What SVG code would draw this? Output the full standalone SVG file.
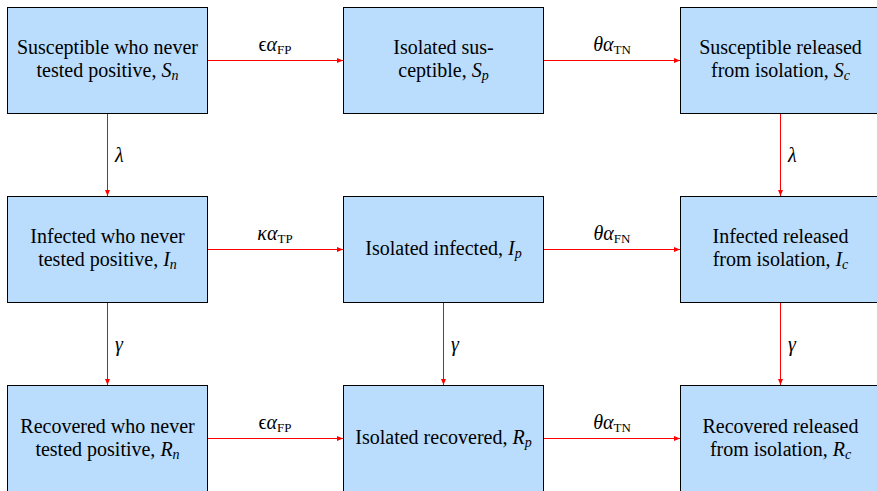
<svg xmlns="http://www.w3.org/2000/svg" width="877" height="491" viewBox="0 0 877 491">
<style>
.box{fill:#badcfd;stroke:#000;stroke-width:1}
.edge{stroke:#ff0000;stroke-width:1;fill:none;marker-end:url(#ah)}
</style>
<defs>
<marker id="ah" markerUnits="userSpaceOnUse" markerWidth="8" markerHeight="6" refX="6" refY="3" orient="auto">
<path d="M0,0.5 L6,3 L0,5.5 Z" fill="#ff0000"/>
</marker>
</defs>
<rect width="877" height="491" fill="#fff"/>
<g id="connectors">
<line class="edge" x1="208" y1="60.5" x2="343" y2="60.5"/>
<line class="edge" x1="544" y1="60.5" x2="680" y2="60.5"/>
<line class="edge" x1="208" y1="249.5" x2="343" y2="249.5"/>
<line class="edge" x1="544" y1="249.5" x2="680" y2="249.5"/>
<line class="edge" x1="208" y1="438.5" x2="343" y2="438.5"/>
<line class="edge" x1="544" y1="438.5" x2="680" y2="438.5"/>
<line class="edge" x1="107.5" y1="114" x2="107.5" y2="196"/>
<line class="edge" x1="780.5" y1="114" x2="780.5" y2="196"/>
<line class="edge" x1="107.5" y1="303" x2="107.5" y2="385"/>
<line class="edge" x1="443.5" y1="303" x2="443.5" y2="385"/>
<line class="edge" x1="780.5" y1="303" x2="780.5" y2="385"/>
<text x="275" y="51" font-family="Liberation Serif, serif" font-size="20" text-anchor="middle">ϵ<tspan font-style="italic">α</tspan><tspan font-size="13" dy="3">FP</tspan></text>
<text x="612" y="51" font-family="Liberation Serif, serif" font-size="20" text-anchor="middle"><tspan font-style="italic">θα</tspan><tspan font-size="13" dy="3">TN</tspan></text>
<text x="275" y="240" font-family="Liberation Serif, serif" font-size="20" text-anchor="middle"><tspan font-style="italic">κα</tspan><tspan font-size="13" dy="3">TP</tspan></text>
<text x="612" y="240" font-family="Liberation Serif, serif" font-size="20" text-anchor="middle"><tspan font-style="italic">θα</tspan><tspan font-size="13" dy="3">FN</tspan></text>
<text x="275" y="429" font-family="Liberation Serif, serif" font-size="20" text-anchor="middle">ϵ<tspan font-style="italic">α</tspan><tspan font-size="13" dy="3">FP</tspan></text>
<text x="612" y="429" font-family="Liberation Serif, serif" font-size="20" text-anchor="middle"><tspan font-style="italic">θα</tspan><tspan font-size="13" dy="3">TN</tspan></text>
<text x="115" y="162" font-family="Liberation Serif, serif" font-size="20" font-style="italic">λ</text>
<text x="788" y="162" font-family="Liberation Serif, serif" font-size="20" font-style="italic">λ</text>
<text x="115" y="351" font-family="Liberation Serif, serif" font-size="20" font-style="italic">γ</text>
<text x="451" y="351" font-family="Liberation Serif, serif" font-size="20" font-style="italic">γ</text>
<text x="788" y="351" font-family="Liberation Serif, serif" font-size="20" font-style="italic">γ</text>
</g>
<g id="Sn"><rect class="box" x="7.5" y="7.5" width="200" height="106"/>
<text x="107.5" y="54" font-family="Liberation Serif, serif" font-size="20" text-anchor="middle">Susceptible who never</text>
<text x="107.5" y="77" font-family="Liberation Serif, serif" font-size="20" text-anchor="middle">tested positive, <tspan font-style="italic">S</tspan><tspan font-style="italic" font-size="14" dy="3">n</tspan></text></g>
<g id="Sp"><rect class="box" x="343.5" y="7.5" width="200" height="106"/>
<text x="443.5" y="54" font-family="Liberation Serif, serif" font-size="20" text-anchor="middle">Isolated sus-</text>
<text x="443.5" y="77" font-family="Liberation Serif, serif" font-size="20" text-anchor="middle">ceptible, <tspan font-style="italic">S</tspan><tspan font-style="italic" font-size="14" dy="3">p</tspan></text></g>
<g id="Sc"><rect class="box" x="680.5" y="7.5" width="200" height="106"/>
<text x="780.5" y="54" font-family="Liberation Serif, serif" font-size="20" text-anchor="middle">Susceptible released</text>
<text x="780.5" y="77" font-family="Liberation Serif, serif" font-size="20" text-anchor="middle">from isolation, <tspan font-style="italic">S</tspan><tspan font-style="italic" font-size="14" dy="3">c</tspan></text></g>
<g id="In"><rect class="box" x="7.5" y="196.5" width="200" height="106"/>
<text x="107.5" y="243" font-family="Liberation Serif, serif" font-size="20" text-anchor="middle">Infected who never</text>
<text x="107.5" y="266" font-family="Liberation Serif, serif" font-size="20" text-anchor="middle">tested positive, <tspan font-style="italic">I</tspan><tspan font-style="italic" font-size="14" dy="3">n</tspan></text></g>
<g id="Ip"><rect class="box" x="343.5" y="196.5" width="200" height="106"/>
<text x="443.5" y="255" font-family="Liberation Serif, serif" font-size="20" text-anchor="middle">Isolated infected, <tspan font-style="italic">I</tspan><tspan font-style="italic" font-size="14" dy="3">p</tspan></text></g>
<g id="Ic"><rect class="box" x="680.5" y="196.5" width="200" height="106"/>
<text x="780.5" y="243" font-family="Liberation Serif, serif" font-size="20" text-anchor="middle">Infected released</text>
<text x="780.5" y="266" font-family="Liberation Serif, serif" font-size="20" text-anchor="middle">from isolation, <tspan font-style="italic">I</tspan><tspan font-style="italic" font-size="14" dy="3">c</tspan></text></g>
<g id="Rn"><rect class="box" x="7.5" y="385.5" width="200" height="106"/>
<text x="107.5" y="433" font-family="Liberation Serif, serif" font-size="20" text-anchor="middle">Recovered who never</text>
<text x="107.5" y="456" font-family="Liberation Serif, serif" font-size="20" text-anchor="middle">tested positive, <tspan font-style="italic">R</tspan><tspan font-style="italic" font-size="14" dy="3">n</tspan></text></g>
<g id="Rp"><rect class="box" x="343.5" y="385.5" width="200" height="106"/>
<text x="443.5" y="444" font-family="Liberation Serif, serif" font-size="20" text-anchor="middle">Isolated recovered, <tspan font-style="italic">R</tspan><tspan font-style="italic" font-size="14" dy="3">p</tspan></text></g>
<g id="Rc"><rect class="box" x="680.5" y="385.5" width="200" height="106"/>
<text x="780.5" y="433" font-family="Liberation Serif, serif" font-size="20" text-anchor="middle">Recovered released</text>
<text x="780.5" y="456" font-family="Liberation Serif, serif" font-size="20" text-anchor="middle">from isolation, <tspan font-style="italic">R</tspan><tspan font-style="italic" font-size="14" dy="3">c</tspan></text></g>
</svg>
